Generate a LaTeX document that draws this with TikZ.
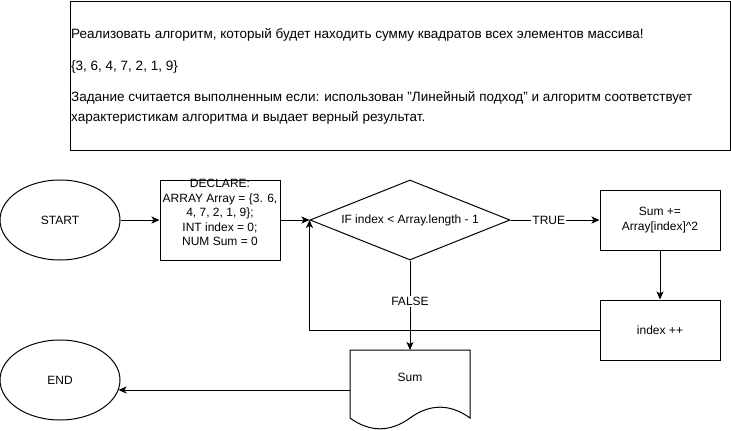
\documentclass[tikz,border=0pt]{standalone}
\usepackage{fontspec}
\setmainfont{Liberation Sans}
\usetikzlibrary{shapes.geometric,arrows.meta}
\begin{document}
\begin{tikzpicture}[x=1pt,y=-1pt,
  every node/.style={font=\fontsize{12}{14.5}\selectfont},
  ln/.style={line width=1pt},
  arr/.style={ln,-{Stealth[length=8pt,width=7pt,inset=2pt]}},
  oval/.style={ellipse,draw,ln,minimum width=120pt,minimum height=80pt,inner sep=0},
  procbox/.style={rectangle,draw,ln,minimum width=120pt,inner sep=0},
  txt/.style={anchor=west,inner sep=0,font=\fontsize{13.5}{16}\selectfont},
  lbl/.style={fill=white,inner sep=1pt}]
\useasboundingbox (0,0) rectangle (731,431);
% task box
\node[rectangle,draw,ln,minimum width=660pt,minimum height=149pt,anchor=north west,inner sep=0] (task) at (70,0.5) {};
\node[txt] (t1) at (71,35) {Реализовать алгоритм, который будет находить сумму квадратов всех элементов массива!};
\node[txt] (t2) at (71,67) {\{3, 6, 4, 7, 2, 1, 9\}};
\node[txt] (t3) at (71,98) {Задание считается выполненным если: использован \char"22Линейный подход\char"22{} и алгоритм соответствует};
\node[txt] (t4) at (71,118) {характеристикам алгоритма и выдает верный результат.};
% flow
\node[oval] (start) at (60,220) {START};
\node[procbox,minimum height=80pt] (declare) at (220,220) {};
\node[align=center,inner sep=0] (decltxt) at (220,212.5) {DECLARE:\\ARRAY Array = \{3. 6,\\4, 7, 2, 1, 9\};\\INT index = 0;\\NUM Sum = 0};
\node[diamond,draw,ln,minimum width=200pt,minimum height=80pt,inner sep=0] (dec) at (410,220) {};
\node (dectxt) at (410,220) {IF index < Array.length - 1};
\node[procbox,minimum height=60pt,align=center] (sumplus) at (660,220) {Sum +=\\Array[index]\^{}2};
\node[procbox,minimum height=60pt] (inc) at (660,330) {index ++};
\draw[ln] (350,350) -- (470,350) -- (470,418)
  .. controls (450,403.6) and (430,403.6) .. (410,418)
  .. controls (390,432.4) and (370,432.4) .. (350,418) -- cycle;
\coordinate (doctop) at (410,350);
\coordinate (docwest) at (350,390);
\node (doctxt) at (410,377) {Sum};
\node[oval] (end) at (60,380) {END};
\coordinate (endhit) at (118.5,390);
% connectors
\draw[arr] (start) -- (declare);
\draw[arr] (declare.east) -- (dec.west);
\draw[arr] (dec.east) -- node[lbl,pos=0.43] (true) {TRUE} (sumplus.west);
\draw[arr] (sumplus.south) -- (inc.north);
\draw[arr] (inc.west) -| (dec.west);
\draw[arr] (dec.south) -- node[lbl,pos=0.46] (false) {FALSE} (doctop);
\draw[arr] (docwest) -- (endhit);
\end{tikzpicture}
\end{document}
